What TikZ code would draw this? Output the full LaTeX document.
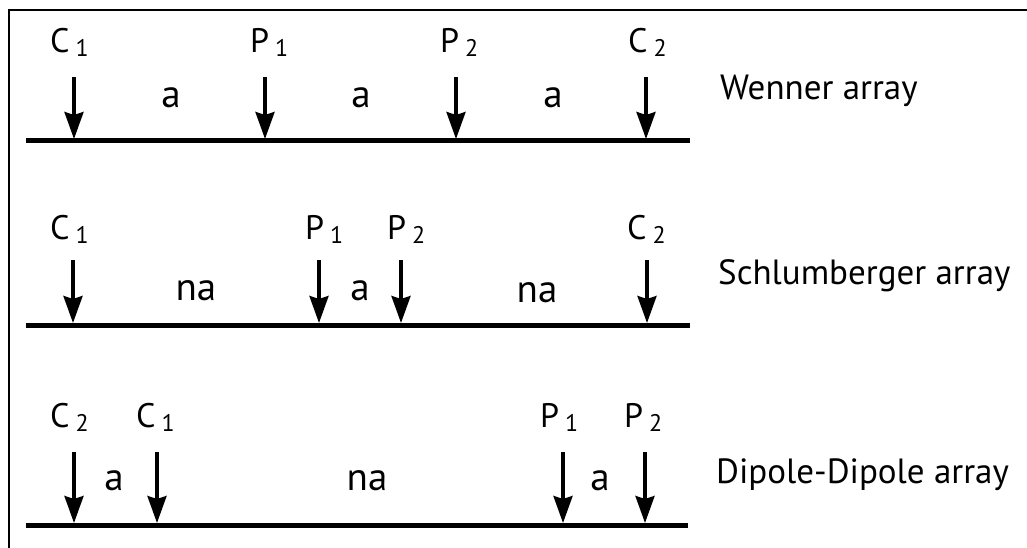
\documentclass[tikz,border=0pt]{standalone}
\usepackage{fontspec}
\setmainfont{PT Sans}
\usetikzlibrary{arrows.meta}
\tikzset{
  elec/.style={line width=3.4pt, -{Stealth[length=27pt,width=19pt,inset=3pt]}},
  ground/.style={line width=5pt},
  frameline/.style={line width=2pt},
  lab/.style={anchor=base west, inner sep=0pt, font=\fontsize{34}{36}\selectfont},
  spacing/.style={anchor=base, inner sep=0pt, font=\fontsize{39}{40}\selectfont},
  arrname/.style={anchor=base west, inner sep=0pt, font=\fontsize{35}{40}\selectfont},
}
\newcommand\elsub[1]{\hspace{6pt}\raisebox{-4pt}{\fontsize{24}{24}\selectfont #1}}
\begin{document}
\begin{tikzpicture}[x=1pt,y=-1pt]
\useasboundingbox (0,0) rectangle (1027,548);
% frame
\draw[frameline] (9,548) -- (9,10) -- (1027,10);

% ---------------- Wenner ----------------
\coordinate (wL) at (26,141); \coordinate (wR) at (690,141);
\draw[ground] (wL) -- (wR);
\foreach \n/\x in {1/74,2/265,3/456,4/646}{
  \coordinate (wt\n) at (\x,77); \coordinate (wb\n) at (\x,139);
  \draw[elec] (wt\n) -- (wb\n);
}
\node[lab] (wC1) at (50,53) {C\elsub{1}};
\node[lab] (wP1) at (250,53) {P\elsub{1}};
\node[lab] (wP2) at (440,53) {P\elsub{2}};
\node[lab] (wC2) at (628,53) {C\elsub{2}};
\node[spacing] (wa1) at (171,108) {a};
\node[spacing] (wa2) at (361,108) {a};
\node[spacing] (wa3) at (553,108) {a};
\node[arrname] (wname) at (720,100) {Wenner array};

% ---------------- Schlumberger ----------------
\coordinate (sL) at (26,325); \coordinate (sR) at (690,325);
\draw[ground] (sL) -- (sR);
\foreach \n/\x in {1/73,2/319,3/401,4/647}{
  \coordinate (st\n) at (\x,260); \coordinate (sb\n) at (\x,323);
  \draw[elec] (st\n) -- (sb\n);
}
\node[lab] (sC1) at (50,239) {C\elsub{1}};
\node[lab] (sP1) at (305,239) {P\elsub{1}};
\node[lab] (sP2) at (387,239) {P\elsub{2}};
\node[lab] (sC2) at (627,239) {C\elsub{2}};
\node[spacing] (sa1) at (196,300) {na};
\node[spacing] (sa2) at (360,300) {a};
\node[spacing] (sa3) at (537,302) {na};
\node[arrname] (sname) at (718,284) {Schlumberger array};

% ---------------- Dipole-Dipole ----------------
\coordinate (dL) at (26,525); \coordinate (dR) at (688,525);
\draw[ground] (dL) -- (dR);
\foreach \n/\x in {1/74,2/157,3/563,4/645}{
  \coordinate (dt\n) at (\x,452); \coordinate (db\n) at (\x,523);
  \draw[elec] (dt\n) -- (db\n);
}
\node[lab] (dC2) at (50,427) {C\elsub{2}};
\node[lab] (dC1) at (136,427) {C\elsub{1}};
\node[lab] (dP1) at (540,427) {P\elsub{1}};
\node[lab] (dP2) at (624,427) {P\elsub{2}};
\node[spacing] (da1) at (114,490) {a};
\node[spacing] (da2) at (367,490) {na};
\node[spacing] (da3) at (600,490) {a};
\node[arrname] (dname) at (716,483) {Dipole-Dipole array};
\end{tikzpicture}
\end{document}
